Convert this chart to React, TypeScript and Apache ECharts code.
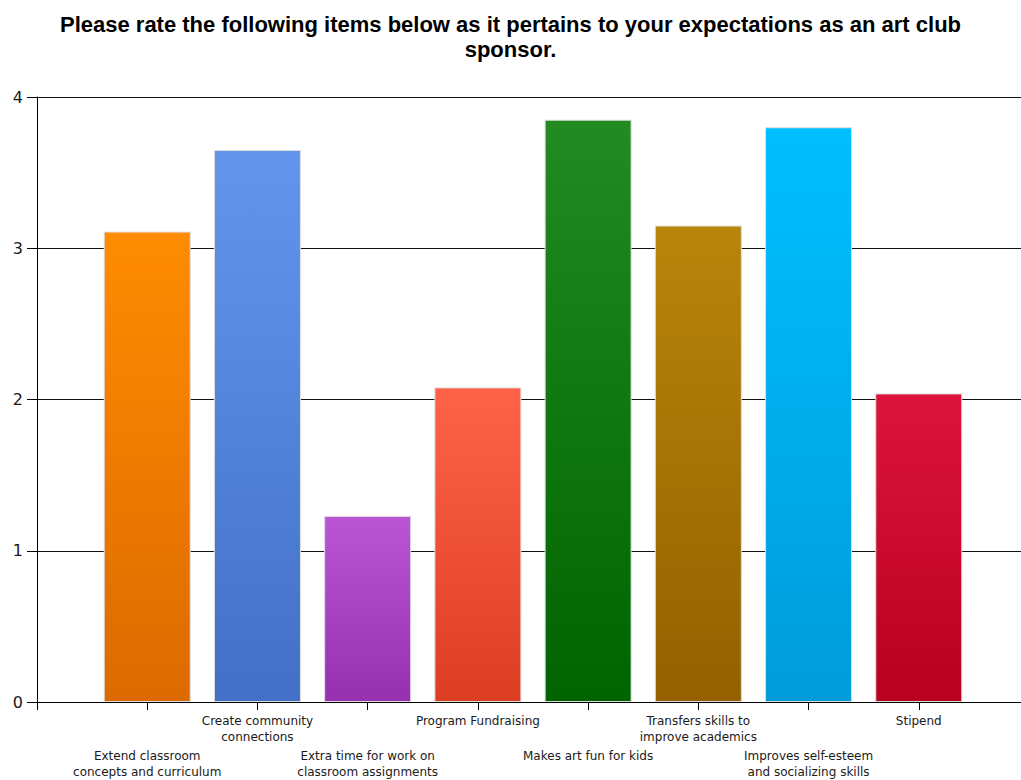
import React, { useEffect, useRef } from "react";
import * as echarts from "echarts";

const titleText =
  "Please rate the following items below as it pertains to your expectations as an art club\nsponsor.";
const categories = [
  "Extend classroom\nconcepts and curriculum",
  "Create community\nconnections",
  "Extra time for work on\nclassroom assignments",
  "Program Fundraising",
  "Makes art fun for kids",
  "Transfers skills to\nimprove academics",
  "Improves self-esteem\nand socializing skills",
  "Stipend",
];
const values = [3.11, 3.65, 1.23, 2.08, 3.85, 3.15, 3.8, 2.04];
const topColors = ["#FF8C00", "#6495ED", "#BA55D3", "#FF6347", "#228B22", "#B8860B", "#00BFFF", "#DC143C"];
const bottomColors = ["#DC6A00", "#4270C6", "#9630AE", "#DC3E22", "#006400", "#946000", "#009CDA", "#B8001F"];
const yTicks = [0, 1, 2, 3, 4];

export default function App() {
  const ref = useRef<HTMLDivElement>(null);
  useEffect(() => {
    if (!ref.current) return;
    const chart = echarts.init(ref.current, null, { renderer: "svg" });
    const data = values.map((v, i) => ({
      value: [i + 1, v],
      itemStyle: {
        color: new echarts.graphic.LinearGradient(0, 0, 0, 1, [
          { offset: 0, color: topColors[i] },
          { offset: 1, color: bottomColors[i] },
        ]),
        borderColor: "#dddddd",
        borderWidth: 1,
      },
    }));
    chart.setOption({
      animation: false,
      backgroundColor: "#ffffff",
      title: {
        text: titleText,
        left: "center",
        top: 7,
        textStyle: {
          fontFamily: "Liberation Sans, Arial, sans-serif",
          fontWeight: "bold",
          fontSize: 22,
          lineHeight: 25,
          color: "#000",
        },
      },
      grid: { left: 37, top: 97, width: 992, height: 605, outerBoundsMode: "none", containLabel: false },
      xAxis: {
        type: "value",
        min: 0,
        max: 9,
        interval: 1,
        splitLine: { show: false },
        axisLine: { show: true, lineStyle: { color: "#000", width: 1 } },
        axisTick: { show: true, length: 8, lineStyle: { color: "#000" } },
        axisLabel: {
          margin: 11,
          fontFamily: "DejaVu Sans, sans-serif",
          fontSize: 12,
          lineHeight: 16,
          color: "#1a1a1a",
          showMinLabel: true,
          showMaxLabel: true,
          formatter: (v: number) => {
            const idx = Math.round(v) - 1;
            if (idx < 0 || idx >= categories.length) return "";
            const lines = categories[idx].split("\n").map((l) => "{a|" + l + "}");
            return idx % 2 === 1 ? lines.join("\n") : "{sp| }\n" + lines.join("\n");
          },
          rich: {
            a: {
              fontFamily: "DejaVu Sans, sans-serif",
              fontSize: 12,
              lineHeight: 16,
              color: "#1a1a1a",
            },
            sp: { fontSize: 12, lineHeight: 35 },
          },
        },
      },
      yAxis: {
        type: "value",
        min: yTicks[0],
        max: yTicks[yTicks.length - 1],
        interval: 1,
        axisLine: { show: true, lineStyle: { color: "#000", width: 1 } },
        axisTick: { show: true, length: 10, lineStyle: { color: "#000" } },
        splitLine: { show: true, lineStyle: { color: "#111", width: 1 } },
        axisLabel: {
          margin: 14,
          fontFamily: "DejaVu Sans, sans-serif",
          fontSize: 16,
          color: "#1a1a1a",
        },
      },
      series: [
        {
          type: "bar",
          data,
          barWidth: 87,
        },
      ],
    });
    return () => chart.dispose();
  }, []);
  return (
    <div
      ref={ref}
      style={{ position: "fixed", left: 0, top: 0, width: 1021, height: 780, background: "#fff" }}
    />
  );
}
